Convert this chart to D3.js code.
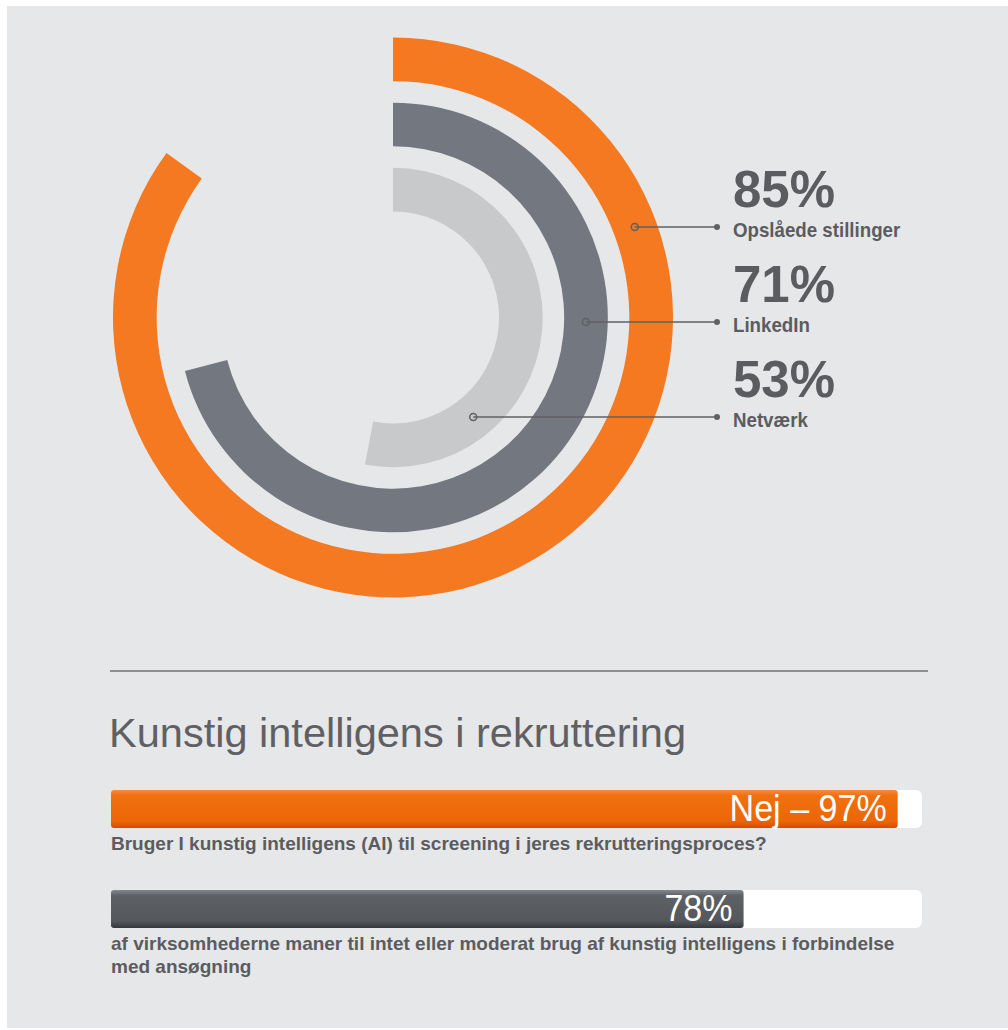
<!DOCTYPE html>
<html>
<head>
<meta charset="utf-8">
<script src="https://cdn.jsdelivr.net/npm/d3@7"></script>
<style>
  html, body { margin: 0; padding: 0; background: #ffffff; }
  #chart { width: 1008px; height: 1030px; }
</style>
</head>
<body>
<div id="chart"></div>
<script>
// Ring chart data
const ringLabels = ['Opslåede stillinger', 'LinkedIn', 'Netværk'];
const ringValues = [85, 71, 53];
const ringColors = ['#f47920', '#737780', '#c8c9cb'];

// Bar chart data
const barValues = [97, 78];
const barPrefixes = ['Nej – ', ''];
const barQuestions = [
  ['Bruger I kunstig intelligens (AI) til screening i jeres rekrutteringsproces?'],
  ['af virksomhederne maner til intet eller moderat brug af kunstig intelligens i forbindelse', 'med ansøgning']
];
const titleText = 'Kunstig intelligens i rekruttering';

const width = 1008, height = 1030;
const bg = '#e6e7e9';
const textColor = '#5b5c5f';
const sans = '"Liberation Sans", Arial, sans-serif';

const svg = d3.select('#chart').append('svg')
  .attr('width', width)
  .attr('height', height);

// page background with thin white margin top/left
svg.append('rect')
  .attr('x', 7).attr('y', 6)
  .attr('width', width - 7).attr('height', height - 8)
  .attr('fill', bg);

const defs = svg.append('defs');

// squeeze a text node horizontally to look condensed
function condense(sel, factor) {
  const w = sel.node().getComputedTextLength();
  sel.attr('textLength', w * factor).attr('lengthAdjust', 'spacingAndGlyphs');
}

// --- Rings ---
const cx = 393, cy = 317.5;
const g = svg.append('g').attr('transform', `translate(${cx},${cy})`);

const angle = d3.scaleLinear().domain([0, 100]).range([0, 2 * Math.PI]);
const radius = d3.scaleBand()
  .domain(ringLabels.slice().reverse())
  .range([106, 280])
  .paddingInner(0.33);

const arc = d3.arc()
  .innerRadius(d => radius(d.label))
  .outerRadius(d => radius(d.label) + radius.bandwidth())
  .startAngle(0)
  .endAngle(d => angle(d.value));

const ringData = ringLabels.map((label, i) => ({ label, value: ringValues[i], color: ringColors[i] }));

g.selectAll('path.ring')
  .data(ringData)
  .join('path')
  .attr('class', 'ring')
  .attr('d', arc)
  .attr('fill', d => d.color);

// --- Labels with connectors ---
const rowY = d3.scalePoint().domain(ringLabels).range([227, 417]);
const dotX = 717, textX = 733;
const lineColor = '#5f6164';

ringData.forEach(d => {
  const y = rowY(d.label);
  const rm = radius(d.label) + radius.bandwidth() / 2;
  const dy = y - cy;
  const px = cx + Math.sqrt(rm * rm - dy * dy);

  svg.append('line')
    .attr('x1', px).attr('y1', y)
    .attr('x2', dotX).attr('y2', y)
    .attr('stroke', lineColor)
    .attr('stroke-width', 1.5);

  svg.append('circle')
    .attr('cx', px).attr('cy', y).attr('r', 3.5)
    .attr('fill', 'none')
    .attr('stroke', lineColor)
    .attr('stroke-width', 1.5);

  svg.append('circle')
    .attr('cx', dotX).attr('cy', y).attr('r', 3)
    .attr('fill', lineColor);

  svg.append('text')
    .attr('x', textX).attr('y', y - 20)
    .style('font-family', sans)
    .style('font-weight', 'bold')
    .style('font-size', '51px')
    .style('fill', textColor)
    .text(`${d.value}%`);

  const lbl = svg.append('text')
    .attr('x', textX).attr('y', y + 10)
    .style('font-family', sans)
    .style('font-weight', 'bold')
    .style('font-size', '21px')
    .style('fill', textColor)
    .text(d.label);
  condense(lbl, 0.89);
});

// --- Separator ---
svg.append('line')
  .attr('x1', 110).attr('x2', 928)
  .attr('y1', 671).attr('y2', 671)
  .attr('stroke', '#8e8f91')
  .attr('stroke-width', 2);

// --- Title ---
svg.append('text')
  .attr('x', 109).attr('y', 747)
  .attr('textLength', 577)
  .attr('lengthAdjust', 'spacingAndGlyphs')
  .style('font-family', sans)
  .style('font-size', '41px')
  .style('fill', '#5f6063')
  .text(titleText);

// --- Bars ---
const xBar = d3.scaleLinear().domain([0, 100]).range([111, 922]);
const barTop = d3.scalePoint().domain(d3.range(barValues.length)).range([790, 890]);
const barH = 38;

const gradOrange = defs.append('linearGradient').attr('id', 'gOrange')
  .attr('x1', 0).attr('y1', 0).attr('x2', 0).attr('y2', 1);
gradOrange.append('stop').attr('offset', '0%').attr('stop-color', '#f58a45');
gradOrange.append('stop').attr('offset', '15%').attr('stop-color', '#f0700f');
gradOrange.append('stop').attr('offset', '82%').attr('stop-color', '#ec6608');
gradOrange.append('stop').attr('offset', '100%').attr('stop-color', '#d64c00');

const gradGray = defs.append('linearGradient').attr('id', 'gGray')
  .attr('x1', 0).attr('y1', 0).attr('x2', 0).attr('y2', 1);
gradGray.append('stop').attr('offset', '0%').attr('stop-color', '#84878b');
gradGray.append('stop').attr('offset', '15%').attr('stop-color', '#5d6064');
gradGray.append('stop').attr('offset', '82%').attr('stop-color', '#54575b');
gradGray.append('stop').attr('offset', '100%').attr('stop-color', '#34373b');

const barFills = ['url(#gOrange)', 'url(#gGray)'];

barValues.forEach((v, i) => {
  const y = barTop(i);
  // white track
  svg.append('rect')
    .attr('x', xBar(0)).attr('y', y)
    .attr('width', xBar(100) - xBar(0)).attr('height', barH)
    .attr('rx', 6)
    .attr('fill', '#ffffff');
  // value bar
  svg.append('rect')
    .attr('x', xBar(0)).attr('y', y)
    .attr('width', xBar(v) - xBar(0)).attr('height', barH)
    .attr('rx', 3)
    .attr('fill', barFills[i]);
  // value label
  const vl = svg.append('text')
    .attr('x', xBar(v) - 11).attr('y', y + 31)
    .attr('text-anchor', 'end')
    .style('font-family', sans)
    .style('font-size', '37px')
    .style('fill', '#ffffff')
    .text(`${barPrefixes[i]}${v}%`);
  condense(vl, 0.92);
  // question text
  barQuestions[i].forEach((line, j) => {
    svg.append('text')
      .attr('x', 111).attr('y', y + 60 + j * 23)
      .style('font-family', sans)
      .style('font-weight', 'bold')
      .style('font-size', '19px')
      .style('fill', textColor)
      .text(line);
  });
});
</script>
</body>
</html>
